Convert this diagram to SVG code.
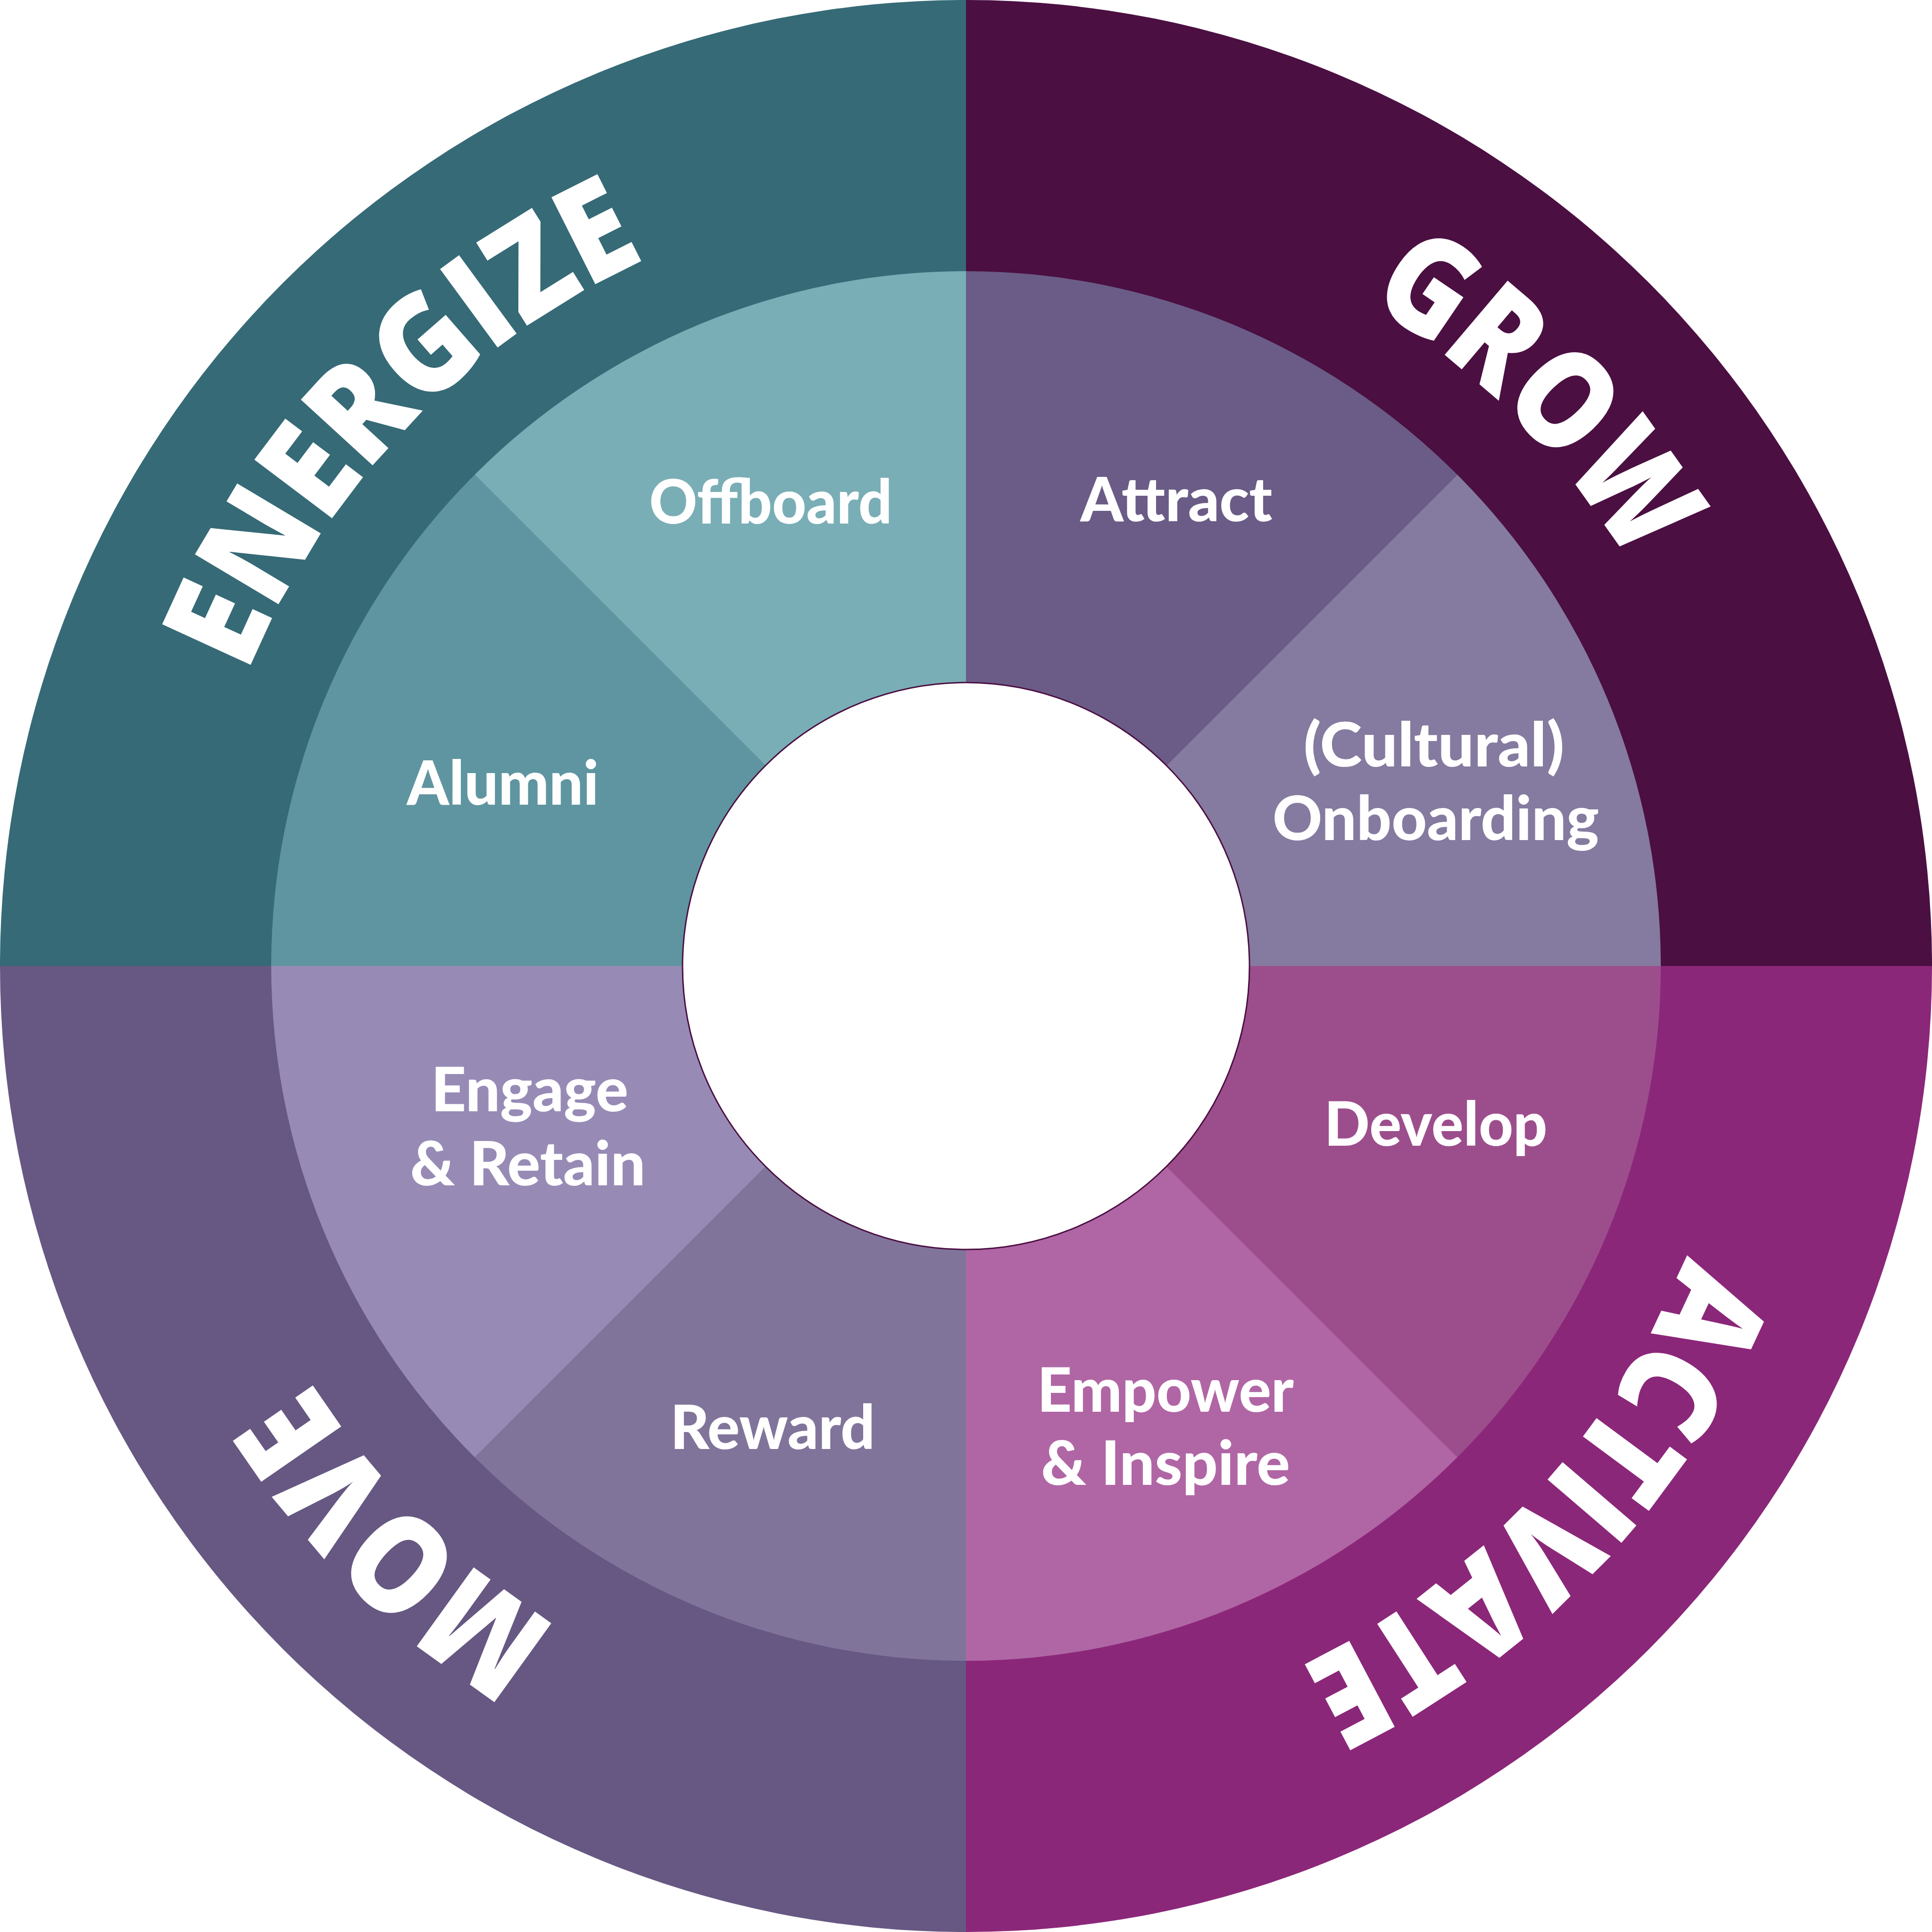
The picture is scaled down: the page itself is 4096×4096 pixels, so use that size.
<svg xmlns="http://www.w3.org/2000/svg" xmlns:xlink="http://www.w3.org/1999/xlink" width="4096" height="4096" viewBox="0 0 4096 4096">
  <style>
    .ring { font-family: "Open Sans", "Liberation Sans", sans-serif; font-weight: 800; font-size: 289px; fill: #ffffff; }
    .lbl { font-family: Lato, "Open Sans", "Liberation Sans", sans-serif; font-weight: 900; font-size: 130px; fill: #ffffff; text-anchor: middle; }
  </style>
  <defs>
    <path id="ringPath" d="M403,2048 A1645,1645 0 0 1 3693,2048 A1645,1645 0 0 1 403,2048"/>
  </defs>
  <rect width="4096" height="4096" fill="#ffffff"/>

  <g id="energize">
    <path d="M2048,2048 L0,2048 A2048,2048 0 0 1 2048,0 Z" fill="#366a77"/>
    <text class="ring" text-anchor="middle"><textPath xlink:href="#ringPath" href="#ringPath" startOffset="12.2%" textLength="1250" lengthAdjust="spacingAndGlyphs">ENERGIZE</textPath></text>
  </g>
  <g id="grow">
    <path d="M2048,2048 L2048,0 A2048,2048 0 0 1 4096,2048 Z" fill="#4b0f42"/>
    <text class="ring" text-anchor="middle"><textPath xlink:href="#ringPath" href="#ringPath" startOffset="37.5%" textLength="800" lengthAdjust="spacingAndGlyphs">GROW</textPath></text>
  </g>
  <g id="activate">
    <path d="M2048,2048 L4096,2048 A2048,2048 0 0 1 2048,4096 Z" fill="#8b2779"/>
    <text class="ring" text-anchor="middle"><textPath xlink:href="#ringPath" href="#ringPath" startOffset="62.0%" textLength="1225" lengthAdjust="spacingAndGlyphs">ACTIVATE</textPath></text>
  </g>
  <g id="move">
    <path d="M2048,2048 L2048,4096 A2048,2048 0 0 1 0,2048 Z" fill="#665882"/>
    <text class="ring" text-anchor="middle"><textPath xlink:href="#ringPath" href="#ringPath" startOffset="87.4%" textLength="750" lengthAdjust="spacingAndGlyphs">MOVE</textPath></text>
  </g>

  <g id="offboard">
    <path d="M2048,2048 L1006.4,1006.4 A1473,1473 0 0 1 2048,575 Z" fill="#7aaeb6"/>
    <text class="lbl" x="1634" y="1110" textLength="515" lengthAdjust="spacingAndGlyphs">Offboard</text>
  </g>
  <g id="attract">
    <path d="M2048,2048 L2048,575 A1473,1473 0 0 1 3089.6,1006.4 Z" fill="#6a5c86"/>
    <text class="lbl" x="2494" y="1105" textLength="407" lengthAdjust="spacingAndGlyphs">Attract</text>
  </g>
  <g id="onboarding">
    <path d="M2048,2048 L3089.6,1006.4 A1473,1473 0 0 1 3521,2048 Z" fill="#857a9f"/>
    <text class="lbl" x="3040" y="1625" textLength="553" lengthAdjust="spacingAndGlyphs">(Cultural)</text>
    <text class="lbl" x="3044" y="1781" textLength="692" lengthAdjust="spacingAndGlyphs">Onboarding</text>
  </g>
  <g id="develop">
    <path d="M2048,2048 L3521,2048 A1473,1473 0 0 1 3089.6,3089.6 Z" fill="#9c4e8c"/>
    <text class="lbl" x="3044" y="2429" textLength="473" lengthAdjust="spacingAndGlyphs">Develop</text>
  </g>
  <g id="empower">
    <path d="M2048,2048 L3089.6,3089.6 A1473,1473 0 0 1 2048,3521 Z" fill="#b066a5"/>
    <text class="lbl" x="2471" y="2993" textLength="544" lengthAdjust="spacingAndGlyphs">Empower</text>
    <text class="lbl" x="2471" y="3148" textLength="528" lengthAdjust="spacingAndGlyphs">&amp; Inspire</text>
  </g>
  <g id="reward">
    <path d="M2048,2048 L2048,3521 A1473,1473 0 0 1 1006.4,3089.6 Z" fill="#81749b"/>
    <text class="lbl" x="1638" y="3072" textLength="434" lengthAdjust="spacingAndGlyphs">Reward</text>
  </g>
  <g id="engage">
    <path d="M2048,2048 L1006.4,3089.6 A1473,1473 0 0 1 575,2048 Z" fill="#978bb6"/>
    <text class="lbl" x="1123" y="2356" textLength="418" lengthAdjust="spacingAndGlyphs">Engage</text>
    <text class="lbl" x="1119" y="2513" textLength="499" lengthAdjust="spacingAndGlyphs">&amp; Retain</text>
  </g>
  <g id="alumni">
    <path d="M2048,2048 L575,2048 A1473,1473 0 0 1 1006.4,1006.4 Z" fill="#5f95a0"/>
    <text class="lbl" x="1066" y="1706" textLength="407" lengthAdjust="spacingAndGlyphs">Alumni</text>
  </g>

  <g id="hub">
    <circle cx="2048" cy="2048" r="601" fill="#ffffff" stroke="#4b0f42" stroke-width="3"/>
  </g>
</svg>
